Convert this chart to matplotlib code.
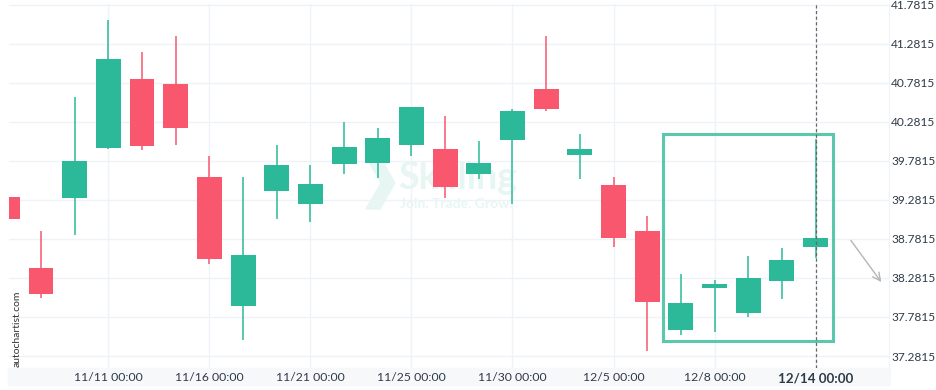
import numpy as np
import matplotlib
matplotlib.use("Agg")
import matplotlib.pyplot as plt
from matplotlib.patches import Rectangle, Polygon

plt.rcParams["font.family"] = ["Lato", "DejaVu Sans"]

# Data
opens = [39.32, 38.41, 39.30, 39.94, 40.83, 40.77, 39.57, 37.92, 39.39, 39.23, 39.74, 39.75, 39.99,
         39.93, 39.61, 40.05, 40.70, 39.85, 39.47, 38.88, 37.61, 38.15, 37.83, 38.24, 38.68]
closes = [39.03, 38.08, 39.78, 41.09, 39.97, 40.20, 38.52, 38.57, 39.73, 39.48, 39.96, 40.08, 40.47,
          39.44, 39.75, 40.42, 40.45, 39.93, 38.79, 37.97, 37.96, 38.20, 38.28, 38.51, 38.79]
highs = [39.32, 38.88, 40.60, 41.58, 41.18, 41.38, 39.84, 39.58, 39.99, 39.73, 40.28, 40.20, 40.47,
         40.36, 40.03, 40.45, 41.38, 40.13, 39.57, 39.07, 38.33, 38.25, 38.56, 38.66, 40.06]
lows = [39.03, 38.02, 38.83, 39.93, 39.92, 39.99, 38.46, 37.49, 39.03, 39.00, 39.61, 39.56, 39.84,
        39.30, 39.55, 39.23, 40.42, 39.55, 38.68, 37.35, 37.55, 37.59, 37.78, 38.01, 38.54]

tick_idx = [3, 6, 9, 12, 15, 18, 21, 24]
tick_labels = ["11/11 00:00", "11/16 00:00", "11/21 00:00", "11/25 00:00",
               "11/30 00:00", "12/5 00:00", "12/8 00:00", "12/14 00:00"]
price_ticks = [37.2815, 37.7815, 38.2815, 38.7815, 39.2815, 39.7815,
               40.2815, 40.7815, 41.2815, 41.7815]

pattern_start, pattern_end = 20, 24
forecast_price = 38.20

GREEN = "#2bb99a"
RED = "#f8576d"
TEXT = "#2f3b48"
GRID = "#eff2f7"

fig = plt.figure(figsize=(9.36, 3.9), dpi=100)
# light strip behind the date labels
fig.patches.append(Rectangle((8 / 936, 5 / 390), 882 / 936, 17 / 390,
                             transform=fig.transFigure, color="#f7f8fa", zorder=-2))
ax = fig.add_axes([9 / 936, 22 / 390, 880 / 936, 364 / 390])
ax.set_facecolor("none")

x = np.arange(len(opens))
o = np.array(opens)
c = np.array(closes)
colors = [GREEN if cc >= oo else RED for oo, cc in zip(o, c)]

ax.vlines(x, lows, highs, colors=colors, linewidth=1.1, zorder=3)
ax.bar(x, np.maximum(np.abs(c - o), 0.03), bottom=np.minimum(o, c), width=0.74,
       color=colors, zorder=4)

# pattern box
px0 = pattern_start - 0.54
px1 = pattern_end + 0.51
py0 = min(lows[pattern_start:pattern_end + 1]) - 0.08
py1 = max(highs[pattern_start:pattern_end + 1]) + 0.06
ax.add_patch(Rectangle((px0, py0), px1 - px0, py1 - py0, fill=False,
                       edgecolor="#3dbf9f", linewidth=2.2, alpha=0.85, zorder=5))

# current candle marker
ax.axvline(tick_idx[-1], color="#666666", linestyle=(0, (2.5, 2)), linewidth=0.9, zorder=6)

# forecast arrow
last = len(opens) - 1
ax.annotate("", xy=(last + 2.0, forecast_price), xytext=(last + 1.0, closes[-1]),
            arrowprops=dict(arrowstyle="->", color="#b5b5b5", lw=1.0,
                            mutation_scale=14),
            annotation_clip=False, zorder=6)

ax.set_xlim(0.05, 26.18)
ax.set_ylim(37.128, 41.79)

ax.set_xticks(tick_idx)
ax.set_xticklabels(tick_labels)
ax.set_yticks(price_ticks)
ax.set_yticklabels([f"{p:.4f}" for p in price_ticks])
ax.yaxis.tick_right()
ax.tick_params(axis="both", length=0, colors=TEXT)
ax.tick_params(axis="x", pad=3, labelsize=8.8)
ax.tick_params(axis="y", pad=1.5, labelsize=8.6)
lbl = ax.get_xticklabels()[-1]
lbl.set_fontweight("bold")
lbl.set_fontsize(9.6)

ax.grid(True, color=GRID, linewidth=1.0, zorder=0)
for s in ["top", "left", "bottom"]:
    ax.spines[s].set_visible(False)
ax.spines["right"].set_color(GRID)

# watermark (behind the axes)
wm = "#e7f6f2"
fig.patches.append(Polygon(np.array([[366, 157], [380, 157], [395, 183], [380, 209],
                                     [366, 209], [381, 183]]) / [936, 390] * [1, -1] + [0, 1],
                           closed=True, transform=fig.transFigure, color=wm, zorder=-1))
fig.text(398 / 936, 1 - 189 / 390, "Skilling", fontsize=27, color=wm, fontweight="bold",
         va="baseline", ha="left", zorder=-1)
fig.text(400 / 936, 1 - 208 / 390, "Join. Trade. Grow.", fontsize=10, color=wm,
         fontweight="bold", va="baseline", ha="left", zorder=-1)

fig.text(17 / 936, 1 - 367 / 390, "autochartist.com", rotation=90, fontsize=7.5,
         color="#333333", ha="center", va="bottom")

fig.savefig("out.png", dpi=100)
